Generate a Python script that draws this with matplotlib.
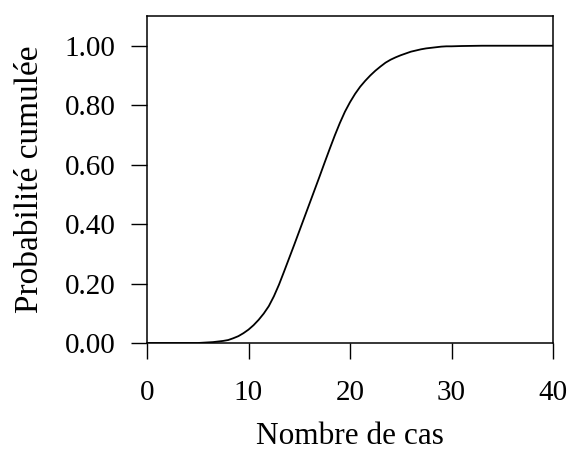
import matplotlib
matplotlib.use('Agg')
import matplotlib.pyplot as plt

# valeurs
nb_cas = [0, 1, 2, 3, 4, 5, 5.5, 6, 6.5, 7, 7.5, 8, 8.5, 9, 9.5,
          10, 10.5, 11, 11.5, 12, 12.5, 13, 13.5, 14, 14.5,
          15, 15.5, 16, 16.5, 17, 17.5, 18, 18.5, 19, 19.5,
          20, 20.5, 21, 21.5, 22, 22.5, 23, 23.5, 24, 24.5,
          25, 25.5, 26, 26.5, 27, 27.5, 28, 28.5, 29, 29.5,
          30, 31, 32, 33, 34, 35, 36, 37, 38, 39, 40]
prob_cum = [0, 0, 0, 0, 0, 0, 0.001, 0.002, 0.003, 0.005, 0.007, 0.010, 0.016, 0.023, 0.033,
            0.045, 0.060, 0.078, 0.099, 0.124, 0.157, 0.196, 0.240, 0.285, 0.330,
            0.376, 0.422, 0.468, 0.514, 0.560, 0.607, 0.653, 0.698, 0.740, 0.778,
            0.810, 0.838, 0.862, 0.882, 0.900, 0.916, 0.930, 0.943, 0.953, 0.961,
            0.968, 0.974, 0.980, 0.984, 0.988, 0.991, 0.993, 0.995, 0.997, 0.998,
            0.998, 0.999, 0.9995, 1.0, 1.0, 1.0, 1.0, 1.0, 1.0, 1.0, 1.0]
xticks = [0, 10, 20, 30, 40]
yticks = [0.0, 0.2, 0.4, 0.6, 0.8, 1.0]

plt.rcParams['font.family'] = ['Liberation Serif', 'DejaVu Serif']
plt.rcParams['font.size'] = 21

fig = plt.figure(figsize=(5.69, 4.55), dpi=100)
ax = fig.add_axes([147/569, 112/455, (553-147)/569, (343-16)/455])
ax.plot(nb_cas, prob_cum, color='black', lw=1.3)
ax.set_xlim(0, 40)
ax.set_ylim(0, 1.1)
ax.set_xticks(xticks)
ax.set_yticks(yticks)
ax.set_yticklabels(['%.2f' % v for v in yticks])
ax.tick_params(direction='out', length=11.5, width=1)
ax.tick_params(axis='x', pad=15)
ax.tick_params(axis='y', pad=11)
for s in ax.spines.values():
    s.set_linewidth(1.1)
ax.set_xlabel('Nombre de cas', fontsize=22.5, labelpad=12)
ax.set_ylabel('Probabilité cumulée', fontsize=24, labelpad=14)
fig.savefig('out.png', dpi=100)
